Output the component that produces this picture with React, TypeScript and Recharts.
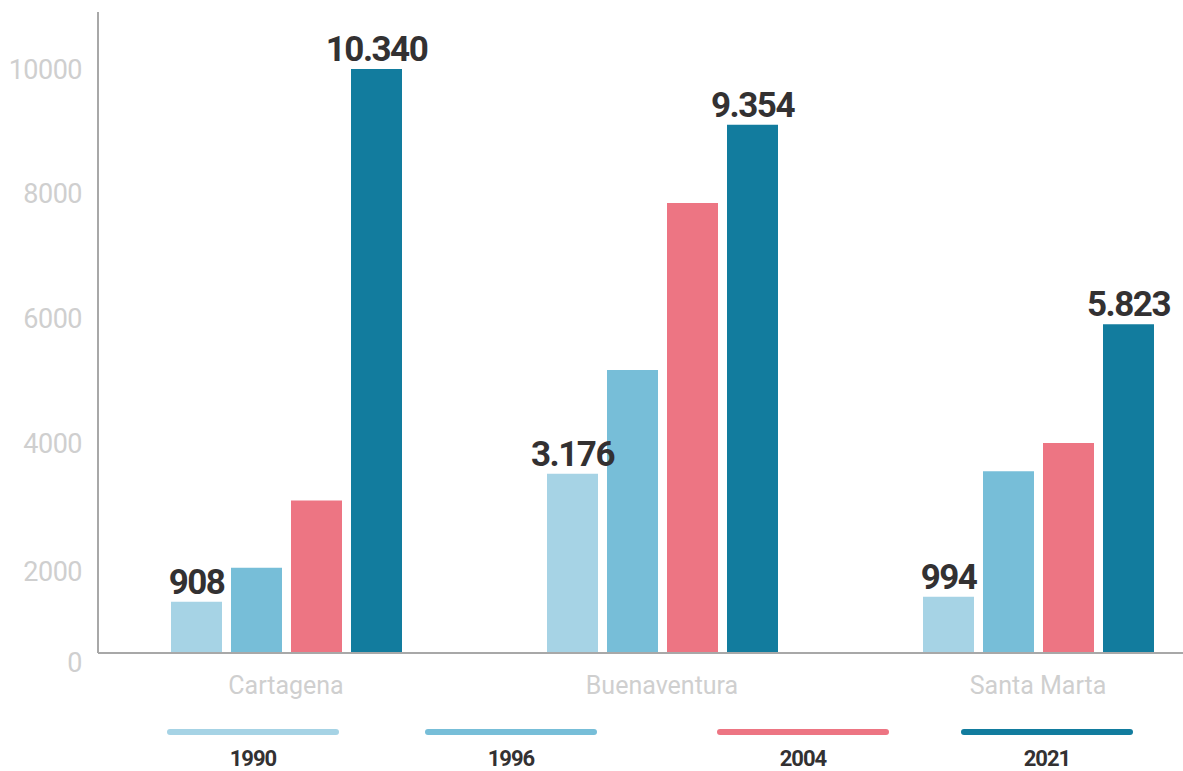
import React from "react";
import { BarChart, Bar, XAxis, YAxis, LabelList } from "recharts";

const categories = ["Cartagena", "Buenaventura", "Santa Marta"];
const years = ["1990", "1996", "2004", "2021"];
const values1990 = [908, 3176, 994];
const values1996 = [1510, 5010, 3220];
const values2004 = [2700, 7970, 3720];
const values2021 = [10340, 9354, 5823];
// the printed axis labels do not sit on a linear scale in the source, so keep where they land
const yTickPositions = [0, 1452, 3718, 5931, 8145, 10340];
const yTickLabels = ["0", "2000", "4000", "6000", "8000", "10000"];
const labelledYears = ["1990", "2021"];

const colors: Record<string, string> = {
  "1990": "#a6d3e5",
  "1996": "#77bed8",
  "2004": "#ed7583",
  "2021": "#127c9e",
};

// legend item centres (layout only)
const legendCenters = [253, 511, 803, 1047];

const data = categories.map((name, i) => ({
  name,
  "1990": values1990[i],
  "1996": values1996[i],
  "2004": values2004[i],
  "2021": values2021[i],
}));

const fmt = (v: any) =>
  String(v).replace(/\B(?=(\d{3})+(?!\d))/g, ".");

const FONT = "Roboto, 'Noto Sans', sans-serif";

function YTick(props: any) {
  const { x, y, payload, index } = props;
  const shift = payload.value === 0 ? 9 : 0;
  return (
    <text
      x={x}
      y={y + shift}
      dy="0.355em"
      textAnchor="end"
      fill="#cfcfcf"
      fontSize={27}
      fontFamily={FONT}
      letterSpacing={-0.5}
    >
      {yTickLabels[index] ?? payload.value}
    </text>
  );
}

export default function App() {
  return (
    <div
      style={{
        position: "absolute",
        left: 0,
        top: 0,
        width: 1183,
        height: 771,
        overflow: "hidden",
        background: "#fff",
      }}
    >
      <BarChart
        width={1240}
        height={771}
        data={data}
        margin={{ top: 12, right: 14, bottom: 68, left: 0 }}
        barSize={51}
        barGap={9}
      >
        <XAxis
          dataKey="name"
          height={50}
          axisLine={{ stroke: "#a8a8a8", strokeWidth: 2 }}
          tickLine={false}
          tickMargin={17}
          tick={{ fill: "#cfcfcf", fontSize: 25, fontFamily: FONT }}
        />
        <YAxis
          width={98}
          domain={[0, 11350]}
          ticks={yTickPositions}
          interval={0}
          axisLine={{ stroke: "#a8a8a8", strokeWidth: 2 }}
          tickLine={false}
          tickMargin={10}
          tick={<YTick />}
        />
        {years.map((yr) => (
          <Bar
            key={yr}
            dataKey={yr}
            fill={colors[yr]}
            isAnimationActive={false}
          >
            {labelledYears.includes(yr) && (
              <LabelList
                dataKey={yr}
                position="top"
                offset={8}
                formatter={fmt}
                fill="#333132"
                fontSize={35}
                fontWeight={700}
                fontFamily={FONT}
                letterSpacing={-1.5}
              />
            )}
          </Bar>
        ))}
      </BarChart>

      {/* legend: coloured bar with the year underneath */}
      {years.map((yr, i) => (
        <div
          key={yr}
          style={{
            position: "absolute",
            left: legendCenters[i] - 86,
            top: 729,
            width: 172,
            textAlign: "center",
            fontFamily: FONT,
          }}
        >
          <div
            style={{
              height: 6,
              borderRadius: 3,
              background: colors[yr],
            }}
          />
          <div
            style={{
              marginTop: 13,
              fontSize: 22,
              fontWeight: 700,
              color: "#333132",
              letterSpacing: -1,
              lineHeight: "22px",
            }}
          >
            {yr}
          </div>
        </div>
      ))}
    </div>
  );
}
